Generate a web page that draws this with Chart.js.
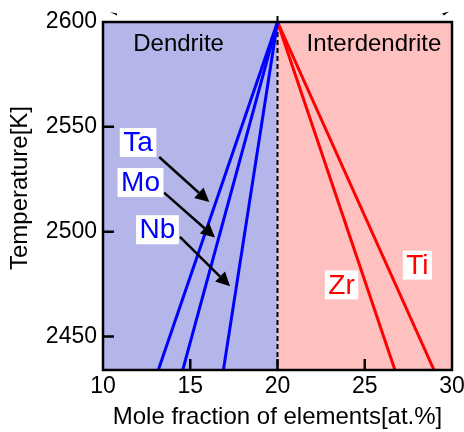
<!DOCTYPE html>
<html><head><meta charset="utf-8">
<script src="https://cdn.jsdelivr.net/npm/chart.js@4/dist/chart.umd.min.js"></script>
<style>html,body{margin:0;padding:0;background:#fff}#wrap{width:464px;height:432px;position:relative}</style>
</head><body><div id="wrap"><canvas id="c" width="464" height="432"></canvas></div>
<script>
// ---- data ----
const xTicks = [10, 15, 20, 25, 30];
const yTicks = [2450, 2500, 2550, 2600];
const xRange = [10, 30];
const yRange = [2434, 2600];
const lineTemps = [2600, 2434];          // temperature at the two ends of each line
const taX = [20, 13.17];
const moX = [20, 14.57];
const nbX = [20, 16.9];
const zrX = [20, 26.73];
const tiX = [20, 28.97];
const boundaryX = 20;                    // dendrite / interdendrite boundary
const regionNames = ['Dendrite', 'Interdendrite'];
const regionLabelX = [14.33, 25.53];
const regionLabelT = 2589.5;
const elementNames = ['Ta', 'Mo', 'Nb', 'Zr', 'Ti'];
const elementColors = ['#0000ff', '#0000ff', '#0000ff', '#ff0000', '#ff0000'];
const elementLabelX = [12.01, 12.15, 13.12, 23.67, 28.02];
const elementLabelT = [2542.5, 2523.4, 2500.9, 2474.6, 2484.0];
// arrows: [startX, startT, tipX, tipT]
const arrowTa = [13.22, 2535.6, 16.09, 2514.1];
const arrowMo = [13.50, 2518.6, 16.42, 2497.2];
const arrowNb = [14.41, 2497.5, 17.28, 2473.9];
const xTitle = 'Mole fraction of elements[at.%]';
const yTitle = 'Temperature[K]';

const FONT = "'Liberation Sans', Arial, sans-serif";

function mk(xs, color, label) {
  return {
    label: label,
    data: xs.map((x, i) => ({ x: x, y: lineTemps[i] })),
    showLine: true, pointRadius: 0, borderColor: color, borderWidth: 3,
    backgroundColor: color, fill: false
  };
}

const decor = {
  id: 'decor',
  beforeDatasetsDraw(chart) {
    const { ctx, chartArea: a, scales: { x, y } } = chart;
    const bx = x.getPixelForValue(boundaryX);
    ctx.save();
    ctx.fillStyle = '#b4b6ea';
    ctx.fillRect(a.left, a.top, bx - a.left, a.bottom - a.top);
    ctx.fillStyle = '#ffc0c0';
    ctx.fillRect(bx, a.top, a.right - bx, a.bottom - a.top);
    ctx.strokeStyle = '#000';
    ctx.lineWidth = 2;
    ctx.setLineDash([5, 3]);
    ctx.beginPath();
    ctx.moveTo(bx, a.top - 6);
    ctx.lineTo(bx, a.bottom);
    ctx.stroke();
    ctx.restore();
  },
  afterDatasetsDraw(chart) {
    const { ctx, chartArea: a, scales: { x, y } } = chart;
    ctx.save();
    // frame
    ctx.strokeStyle = '#000';
    ctx.lineWidth = 2.5;
    ctx.strokeRect(a.left, a.top, a.right - a.left, a.bottom - a.top);
    // inward ticks
    ctx.lineWidth = 2.5;
    ctx.beginPath();
    yTicks.forEach(v => {
      if (v >= yRange[1]) return;
      const py = y.getPixelForValue(v);
      ctx.moveTo(a.left, py); ctx.lineTo(a.left + 11, py);
    });
    xTicks.forEach(v => {
      if (v <= xRange[0] || v >= xRange[1]) return;
      const px = x.getPixelForValue(v);
      ctx.moveTo(px, a.bottom); ctx.lineTo(px, a.bottom - 11);
    });
    ctx.stroke();
    // small marks above the frame
    ctx.fillStyle = '#000';
    ctx.beginPath();
    ctx.moveTo(a.left + 7, a.top - 10); ctx.lineTo(a.left + 14, a.top - 8.5); ctx.lineTo(a.left + 14, a.top - 6.5); ctx.closePath();
    ctx.fill();
    ctx.beginPath();
    ctx.moveTo(a.right - 10, a.top - 8.5); ctx.lineTo(a.right - 3, a.top - 10.5); ctx.lineTo(a.right - 8, a.top - 6.5); ctx.closePath();
    ctx.fill();
    // region labels
    ctx.fillStyle = '#000';
    ctx.font = '24px ' + FONT;
    ctx.textAlign = 'center';
    ctx.textBaseline = 'middle';
    regionNames.forEach((n, i) => {
      ctx.fillText(n, x.getPixelForValue(regionLabelX[i]), y.getPixelForValue(regionLabelT));
    });
    // arrows
    [arrowTa, arrowMo, arrowNb].forEach(ar => {
      const x0 = x.getPixelForValue(ar[0]), y0 = y.getPixelForValue(ar[1]);
      const x1 = x.getPixelForValue(ar[2]), y1 = y.getPixelForValue(ar[3]);
      const ang = Math.atan2(y1 - y0, x1 - x0);
      const hl = 14, hw = 7;
      const bxp = x1 - hl * Math.cos(ang), byp = y1 - hl * Math.sin(ang);
      ctx.strokeStyle = '#000';
      ctx.lineWidth = 2.5;
      ctx.beginPath(); ctx.moveTo(x0, y0); ctx.lineTo(bxp, byp); ctx.stroke();
      ctx.beginPath();
      ctx.moveTo(x1, y1);
      ctx.lineTo(bxp + hw * Math.sin(ang), byp - hw * Math.cos(ang));
      ctx.lineTo(bxp - hw * Math.sin(ang), byp + hw * Math.cos(ang));
      ctx.closePath(); ctx.fillStyle = '#000'; ctx.fill();
    });
    // element labels with white boxes
    ctx.font = '28px ' + FONT;
    elementNames.forEach((n, i) => {
      const px = x.getPixelForValue(elementLabelX[i]);
      const py = y.getPixelForValue(elementLabelT[i]);
      const w = ctx.measureText(n).width + 7;
      const h = 29;
      ctx.fillStyle = '#fff';
      ctx.fillRect(px - w / 2, py - h / 2, w, h);
      ctx.fillStyle = elementColors[i];
      ctx.fillText(n, px, py + 1);
    });
    // y title
    ctx.fillStyle = '#000';
    ctx.font = '24px ' + FONT;
    ctx.translate(20, (a.top + a.bottom) / 2 - 8);
    ctx.rotate(-Math.PI / 2);
    ctx.fillText(yTitle, 0, 0);
    ctx.restore();
  }
};

new Chart(document.getElementById('c'), {
  type: 'scatter',
  data: {
    datasets: [
      mk(taX, elementColors[0], 'Ta'),
      mk(moX, elementColors[1], 'Mo'),
      mk(nbX, elementColors[2], 'Nb'),
      mk(zrX, elementColors[3], 'Zr'),
      mk(tiX, elementColors[4], 'Ti')
    ]
  },
  options: {
    responsive: false,
    animation: false,
    devicePixelRatio: 1,
    layout: { padding: { top: 22, right: 12, left: 0, bottom: 0 } },
    plugins: { legend: { display: false }, tooltip: { enabled: false } },
    scales: {
      x: {
        type: 'linear', min: xRange[0], max: xRange[1],
        grid: { display: false, drawTicks: false },
        border: { display: false },
        afterBuildTicks: s => { s.ticks = xTicks.map(v => ({ value: v })); },
        afterFit: s => { s.height = 62; s.paddingLeft = 0; s.paddingRight = 0; },
        ticks: { color: '#000', padding: 3, maxRotation: 0, autoSkip: false, callback: v => String(v), font: { size: 23, family: FONT } },
        title: { display: true, text: xTitle, color: '#000', padding: { top: 0, bottom: 0 }, font: { size: 24, family: FONT, lineHeight: 1.2 } }
      },
      y: {
        type: 'linear', min: yRange[0], max: yRange[1],
        grid: { display: false, drawTicks: false },
        border: { display: false },
        afterBuildTicks: s => { s.ticks = yTicks.map(v => ({ value: v })); },
        afterFit: s => { s.width = 103; s.paddingTop = 0; s.paddingBottom = 0; },
        ticks: { color: '#000', padding: 6, autoSkip: false, callback: v => String(v), font: { size: 23, family: FONT } }
      }
    }
  },
  plugins: [decor]
});
</script>
</body></html>
